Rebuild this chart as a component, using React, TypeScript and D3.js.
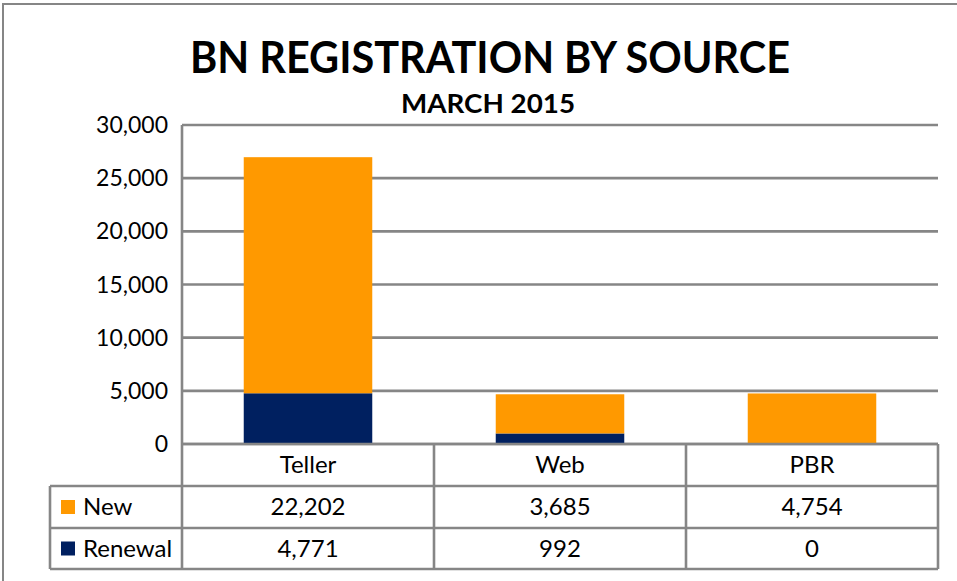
import React from "react";
import * as d3 from "d3";

const categories = ["Teller", "Web", "PBR"];
const seriesNames = ["New", "Renewal"];
const newValues = [22202, 3685, 4754];
const renewalValues = [4771, 992, 0];
const yTicks = [0, 5000, 10000, 15000, 20000, 25000, 30000];
const colors = { New: "#FF9900", Renewal: "#002060" };

const W = 957;
const H = 581;
const FONT = "Lato, 'Open Sans', sans-serif";
const GRID = "#868686";

export default function App() {
  const left = 182, right = 938, top = 125, bottom = 444;
  const x = d3.scaleBand<string>().domain(categories).range([left, right]).paddingInner(0.49).paddingOuter(0.245);
  const xCol = d3.scaleBand<string>().domain(categories).range([left, right]);
  const y = d3.scaleLinear().domain([0, 30000]).range([bottom, top]);

  const data = categories.map((c, i) => ({ cat: c, New: newValues[i], Renewal: renewalValues[i] }));
  const stack = d3.stack<any>().keys(["Renewal", "New"])(data);
  const fmt = d3.format(",");

  const rowTops = [444, 486, 528, 569];
  const tableLeft = 50;

  return (
    <svg width={W} height={H} style={{ position: "absolute", left: 0, top: 0 }} fontFamily={FONT}>
      <rect x={0} y={0} width={W} height={H} fill="#fff" />
      <rect x={3} y={4} width={W + 10} height={H + 10} fill="none" stroke={GRID} strokeWidth={2} />
      <text x={490} y={73} textAnchor="middle" fontSize={43} fontWeight={700} fill="#000" textLength={600} lengthAdjust="spacingAndGlyphs">BN REGISTRATION BY SOURCE</text>
      <text x={488} y={113} textAnchor="middle" fontSize={26} fontWeight={700} fill="#000" textLength={174} lengthAdjust="spacingAndGlyphs">MARCH 2015</text>

      {yTicks.map((t) => (
        <g key={t}>
          <line x1={left} x2={right} y1={y(t)} y2={y(t)} stroke={GRID} strokeWidth={2.6} />
          <text x={168} y={y(t)} dy="0.35em" textAnchor="end" fontSize={23} fill="#000">{fmt(t)}</text>
        </g>
      ))}

      {stack.map((s) => (
        <g key={s.key} fill={(colors as any)[s.key]}>
          {s.map((d, i) => (
            <rect key={i} x={x(categories[i])} width={x.bandwidth()} y={y(d[1])} height={Math.max(0, y(d[0]) - y(d[1]))} />
          ))}
        </g>
      ))}
      {yTicks.filter((t) => t === 0).map((t) => (
        <line key="base" x1={left} x2={right} y1={y(t)} y2={y(t)} stroke={GRID} strokeWidth={2.6} />
      ))}

      {/* table */}
      <g stroke={GRID} strokeWidth={2.6} fill="none">
        <line x1={left} x2={left} y1={top} y2={rowTops[3]} />
        {categories.map((c) => (
          <line key={c} x1={(xCol(c) as number) + xCol.bandwidth()} x2={(xCol(c) as number) + xCol.bandwidth()} y1={rowTops[0]} y2={rowTops[3]} />
        ))}
        <line x1={tableLeft} x2={tableLeft} y1={rowTops[1]} y2={rowTops[3]} />
        {rowTops.slice(1).map((r) => (
          <line key={r} x1={tableLeft} x2={right} y1={r} y2={r} />
        ))}
      </g>
      {categories.map((c) => (
        <text key={c} x={(xCol(c) as number) + xCol.bandwidth() / 2} y={(rowTops[0] + rowTops[1]) / 2} dy="0.35em" textAnchor="middle" fontSize={24}>{c}</text>
      ))}
      {seriesNames.map((sn, r) => {
        const vals = sn === "New" ? newValues : renewalValues;
        const cy = (rowTops[r + 1] + rowTops[r + 2]) / 2;
        return (
          <g key={sn}>
            <rect x={61} y={cy - 7} width={14} height={14} fill={(colors as any)[sn]} />
            <text x={83} y={cy} dy="0.35em" fontSize={24}>{sn}</text>
            {vals.map((v, i) => (
              <text key={i} x={(xCol(categories[i]) as number) + xCol.bandwidth() / 2} y={cy} dy="0.35em" textAnchor="middle" fontSize={24}>{fmt(v)}</text>
            ))}
          </g>
        );
      })}
    </svg>
  );
}
